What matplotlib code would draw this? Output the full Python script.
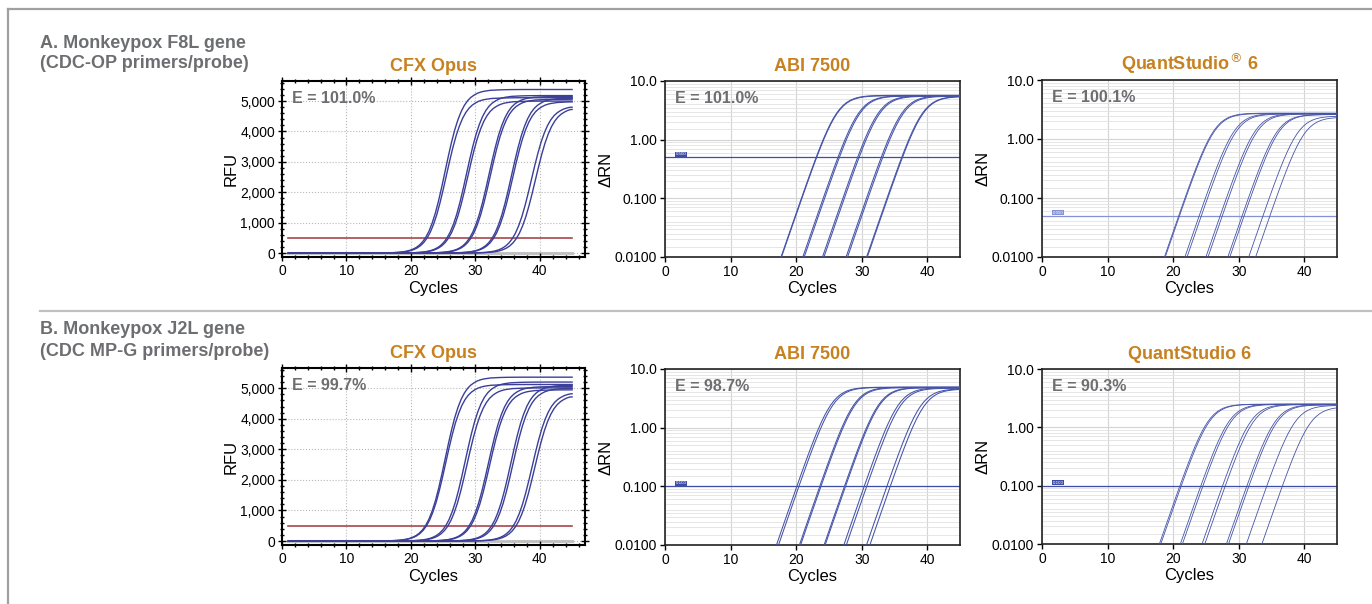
import numpy as np
import matplotlib.pyplot as plt
from matplotlib.lines import Line2D
from matplotlib.ticker import MultipleLocator, FixedLocator, FuncFormatter, NullFormatter

plt.rcParams['font.family'] = ['Liberation Sans', 'DejaVu Sans']

# amplification profile: fraction of plateau vs cycles from the midpoint
prof_off = np.arange(-14, 16.5, 0.5)
prof_frac = [0.000029, 0.000042, 0.000061, 0.000089, 0.000129, 0.000188, 0.000272, 0.000395,
             0.000574, 0.000833, 0.00121, 0.00176, 0.00254, 0.00370, 0.00536, 0.00776,
             0.0112, 0.0162, 0.0234, 0.0336, 0.0481, 0.0684, 0.0963, 0.134, 0.184, 0.246,
             0.322, 0.408, 0.500, 0.592, 0.678, 0.754, 0.816, 0.866, 0.904, 0.932, 0.952,
             0.966, 0.977, 0.984, 0.989, 0.992, 0.995, 0.996, 0.997, 0.998, 0.9985, 0.999,
             0.9993, 0.9995, 0.9997, 0.9998, 0.9999, 1, 1, 1, 1, 1, 1, 1, 1]

# per-well midpoint cycle and plateau
cfx_a_mid = [25.3, 25.5, 28.6, 28.8, 32.1, 32.3, 35.6, 35.8, 38.7, 39.3]
cfx_a_plat = [5380, 5110, 5180, 5000, 5150, 5060, 5100, 4980, 4850, 4800]
abi_a_mid = [26.2, 26.25, 29.5, 29.7, 32.5, 32.7, 36.1, 36.3, 39.2, 39.3]
abi_a_plat = [5.7, 5.6, 5.6, 5.55, 5.6, 5.5, 5.6, 5.5, 5.5, 5.45]
qs_a_mid = [26.2, 26.3, 29.3, 29.6, 32.5, 32.8, 35.8, 36.1, 38.9, 39.9]
qs_a_plat = [2.75, 2.7, 2.7, 2.65, 2.7, 2.65, 2.6, 2.6, 2.45, 2.35]

cfx_b_mid = [25.3, 25.4, 28.4, 28.7, 32.0, 32.2, 35.5, 35.8, 38.8, 39.2]
cfx_b_plat = [5360, 5120, 5200, 5010, 5055, 4945, 5100, 5000, 4870, 4790]
abi_b_mid = [25.3, 25.6, 28.8, 28.95, 32.55, 32.7, 35.55, 35.9, 38.95, 39.45]
abi_b_plat = [4.9, 4.85, 4.9, 4.8, 4.85, 4.8, 4.8, 4.7, 4.6, 4.55]
qs_b_mid = [25.3, 25.5, 28.5, 28.8, 31.8, 32.2, 35.5, 35.8, 38.5, 40.8]
qs_b_plat = [2.5, 2.48, 2.5, 2.47, 2.48, 2.45, 2.45, 2.42, 2.38, 2.25]

titles_a = ['CFX Opus', 'ABI 7500', r'QuantStudio$^{\circledR}$ 6']
titles_b = ['CFX Opus', 'ABI 7500', 'QuantStudio 6']
eff_a = ['E = 101.0%', 'E = 101.0%', 'E = 100.1%']
eff_b = ['E = 99.7%', 'E = 98.7%', 'E = 90.3%']
thr_a = [500, 0.5, 0.05]
thr_b = [500, 0.1, 0.1]
thr_lab_a = ['', '0.500', '0.050']
thr_lab_b = ['', '0.100', '0.100']

GRAY = '#6d6e71'
ORANGE = '#c8811f'
W, H = 1372, 604


def curve(mid, plat):
    x = mid + prof_off
    y = plat * np.array(prof_frac)
    keep = (x > 1) & (x < 45)
    xs = np.concatenate([[1], x[keep], [45]])
    ys = np.concatenate([[0], y[keep], [y[keep][-1]]])
    return xs, ys


def box(l, t, r, b):
    return [l / W, 1 - b / H, (r - l) / W, (b - t) / H]


def cfx_panel(ax, mids, plats, title, eff, thr):
    ax.plot([1, 45], [0, 0], color='#c4c4c4', lw=2.2, zorder=1)
    for m, p in zip(mids, plats):
        xs, ys = curve(m, p)
        ax.plot(xs, ys, color='#3b3f98', lw=1.0, zorder=3)
    ax.plot([1, 45], [thr, thr], color='#a8464b', lw=1.2, zorder=2)
    ax.set_xlim(0, 47)
    ax.set_ylim(-130, 5660)
    ax.xaxis.set_major_locator(MultipleLocator(10))
    ax.xaxis.set_minor_locator(MultipleLocator(2))
    ax.yaxis.set_major_locator(MultipleLocator(1000))
    ax.yaxis.set_minor_locator(MultipleLocator(200))
    ax.yaxis.set_major_formatter(FuncFormatter(lambda v, p: f'{int(round(v)):,}'))
    ax.tick_params(which='both', direction='inout', top=True, right=True, width=1)
    ax.tick_params(which='major', length=6, labelsize=10, pad=2)
    ax.tick_params(which='minor', length=3.5)
    ax.grid(which='major', ls=':', color='#b8b8b8', lw=0.8)
    for s in ax.spines.values():
        s.set_linewidth(1.5)
    ax.set_ylabel('RFU', fontsize=12, labelpad=1)
    ax.set_xlabel('Cycles', fontsize=12, labelpad=2)
    ax.set_title(title, color=ORANGE, fontsize=13, fontweight='bold', pad=7)
    ax.text(0.033, 0.9, eff, transform=ax.transAxes, fontsize=11.5, fontweight='bold',
            color=GRAY, va='center', ha='left')


def log_panel(ax, mids, plats, title, eff, thr, thr_lab, thr_col, lw):
    for m, p in zip(mids, plats):
        xs, ys = curve(m, p)
        ax.plot(xs, ys, color='#4553a8', lw=lw, zorder=3)
    ax.axhline(thr, color=thr_col, lw=0.9, zorder=2)
    ax.text(1.6, thr * 1.04, thr_lab, fontsize=3.2, color='white', va='bottom', ha='left',
            bbox=dict(boxstyle='square,pad=0.15', fc=thr_col, ec='none'), zorder=4)
    ax.set_yscale('log')
    ax.set_xlim(0, 45)
    ax.set_ylim(0.01, 10)
    ax.set_xticks([0, 10, 20, 30, 40])
    ax.set_yticks([0.01, 0.1, 1, 10])
    ax.set_yticklabels(['0.0100', '0.100', '1.00', '10.0'])
    subs = [1.5, 2, 2.5, 3, 3.5, 4, 5, 6, 7, 8, 9]
    ax.yaxis.set_minor_locator(FixedLocator([s * d for d in (0.01, 0.1, 1) for s in subs]))
    ax.yaxis.set_minor_formatter(NullFormatter())
    ax.tick_params(which='major', direction='out', length=3.5, width=1, labelsize=10, pad=2)
    ax.tick_params(which='minor', length=0)
    ax.grid(which='major', color='#d4d4d4', lw=0.8)
    ax.grid(which='minor', axis='y', color='#e2e2e2', lw=0.6)
    for s in ax.spines.values():
        s.set_linewidth(1.2)
        s.set_color('#222222')
    ax.set_ylabel('ΔRN', fontsize=12, labelpad=1)
    ax.set_xlabel('Cycles', fontsize=12, labelpad=2)
    ax.set_title(title, color=ORANGE, fontsize=13, fontweight='bold', pad=7)
    ax.text(0.033, 0.9, eff, transform=ax.transAxes, fontsize=11.5, fontweight='bold',
            color=GRAY, va='center', ha='left')


fig = plt.figure(figsize=(W / 100, H / 100), dpi=100)

# frame and separator
fig.add_artist(Line2D([8 / W, 1], [1 - 9 / H, 1 - 9 / H], color='#a0a0a0', lw=1.6))
fig.add_artist(Line2D([8 / W, 8 / W], [0, 1 - 9 / H], color='#a0a0a0', lw=1.6))
fig.add_artist(Line2D([40 / W, 1], [1 - 311 / H, 1 - 311 / H], color='#c0c0c0', lw=1.6))

fig.text(40 / W, 1 - 43 / H, 'A. Monkeypox F8L gene', fontsize=13, fontweight='bold',
         color=GRAY, va='center', ha='left')
fig.text(40 / W, 1 - 63 / H, '(CDC-OP primers/probe)', fontsize=13, fontweight='bold',
         color=GRAY, va='center', ha='left')
fig.text(40 / W, 1 - 330 / H, 'B. Monkeypox J2L gene', fontsize=13, fontweight='bold',
         color=GRAY, va='center', ha='left')
fig.text(40 / W, 1 - 351 / H, '(CDC MP-G primers/probe)', fontsize=13, fontweight='bold',
         color=GRAY, va='center', ha='left')

ax1 = fig.add_axes(box(282, 81, 585, 257))
ax2 = fig.add_axes(box(665, 81, 960, 257))
ax3 = fig.add_axes(box(1042, 80, 1337, 257))
ax4 = fig.add_axes(box(282, 368, 585, 545))
ax5 = fig.add_axes(box(665, 369, 960, 545))
ax6 = fig.add_axes(box(1042, 369, 1337, 544))

cfx_panel(ax1, cfx_a_mid, cfx_a_plat, titles_a[0], eff_a[0], thr_a[0])
log_panel(ax2, abi_a_mid, abi_a_plat, titles_a[1], eff_a[1], thr_a[1], thr_lab_a[1], '#3e4ea6', 0.75)
log_panel(ax3, qs_a_mid, qs_a_plat, titles_a[2], eff_a[2], thr_a[2], thr_lab_a[2], '#8593d4', 0.6)
cfx_panel(ax4, cfx_b_mid, cfx_b_plat, titles_b[0], eff_b[0], thr_b[0])
log_panel(ax5, abi_b_mid, abi_b_plat, titles_b[1], eff_b[1], thr_b[1], thr_lab_b[1], '#3e4ea6', 0.75)
log_panel(ax6, qs_b_mid, qs_b_plat, titles_b[2], eff_b[2], thr_b[2], thr_lab_b[2], '#3e4ea6', 0.6)

fig.savefig('out.png', dpi=100)
